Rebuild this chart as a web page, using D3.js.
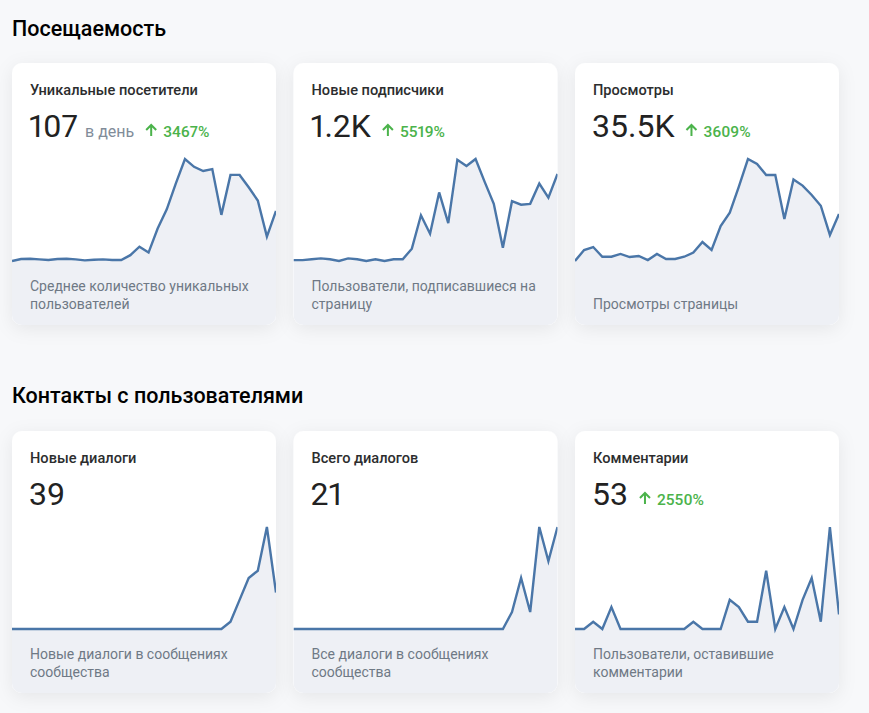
<!DOCTYPE html>
<html>
<head>
<meta charset="utf-8">
<script src="https://cdn.jsdelivr.net/npm/d3@7"></script>
<style>
  html, body { margin: 0; padding: 0; background: #f7f8fa; }
  svg { display: block; font-family: Roboto, "Noto Sans", sans-serif; }
  .num { font-variant-numeric: proportional-nums; font-feature-settings: "pnum" 1; }
</style>
</head>
<body>
<svg id="chart" width="869" height="713"></svg>
<script>
// ---- data ----
const sectionTitles = ["Посещаемость", "Контакты с пользователями"];
const days = [1,2,3,4,5,6,7,8,9,10,11,12,13,14,15,16,17,18,19,20,21,22,23,24,25,26,27,28,29,30];

const cardTitles = ["Уникальные посетители", "Новые подписчики", "Просмотры",
                    "Новые диалоги", "Всего диалогов", "Комментарии"];
const cardValues = ["107", "1.2K", "35.5K", "39", "21", "53"];
const cardUnits = ["в день", "", "", "", "", ""];
const cardChanges = ["3467%", "5519%", "3609%", "", "", "2550%"];
const cardNotes = [
  ["Среднее количество уникальных", "пользователей"],
  ["Пользователи, подписавшиеся на", "страницу"],
  ["Просмотры страницы"],
  ["Новые диалоги в сообщениях", "сообщества"],
  ["Все диалоги в сообщениях", "сообщества"],
  ["Пользователи, оставившие", "комментарии"]
];

const uniqueVisitors = [3,9,10,8,6,9,10,8,5,7,8,6,6,21,47,29,103,162,242,317,293,280,286,145,268,268,230,189,78,157];
const newSubscribers = [1,1,2,3,2,0,3,2,0,2,0,2,2,14,52,31,78,43,115,108,116,90,65,15,68,64,65,88,72,99];
const pageViews = [40,408,507,183,183,275,173,207,73,275,107,107,183,320,674,408,1210,1656,2526,3450,3283,2915,2915,1445,2768,2560,2246,1888,910,1612];
const newDialogs = [0,0,0,0,0,0,0,0,0,0,0,0,0,0,0,0,0,0,0,0,0,0,0,0,1,4,7,8,14,5];
const totalDialogs = [0,0,0,0,0,0,0,0,0,0,0,0,0,0,0,0,0,0,0,0,0,0,0,0,1,3,1,6,4,6];
const comments = [0,0,1,0,3,0,0,0,0,0,0,0,0,1,0,0,0,4,3,1,1,8,0,3,0,4,7,1,14,2];

const series = [uniqueVisitors, newSubscribers, pageViews, newDialogs, totalDialogs, comments];

// ---- layout ----
const svg = d3.select("#chart");
const cardW = 264, cardH = 262, cardR = 10;
const colX = [12, 293.5, 575];
const rowY = [63, 431];
const headY = [36, 403];
const lineColor = "#4a76a8";
const fillColor = "#eef0f5";
const green = "#4bb34b";

const defs = svg.append("defs");
const shadow = defs.append("filter").attr("id", "shadow")
  .attr("x", "-20%").attr("y", "-20%").attr("width", "140%").attr("height", "140%");
shadow.append("feDropShadow").attr("dx", 0).attr("dy", 4).attr("stdDeviation", 9)
  .attr("flood-color", "#000").attr("flood-opacity", 0.07);

svg.selectAll("text.section").data(sectionTitles).join("text")
  .attr("class", "section")
  .attr("x", 12).attr("y", (d, i) => headY[i])
  .attr("font-size", 21.5).attr("font-weight", 500).attr("fill", "#000")
  .text(d => d);

cardTitles.forEach((title, i) => {
  const cx = colX[i % 3], cy = rowY[Math.floor(i / 3)];
  const data = series[i];
  const clipId = "clip" + i;
  defs.append("clipPath").attr("id", clipId)
    .append("rect").attr("x", cx).attr("y", cy).attr("width", cardW).attr("height", cardH)
    .attr("rx", cardR);

  const g = svg.append("g");
  g.append("rect").attr("x", cx).attr("y", cy).attr("width", cardW).attr("height", cardH)
    .attr("rx", cardR).attr("fill", "#fff").attr("filter", "url(#shadow)");

  const x = d3.scaleLinear().domain(d3.extent(days)).range([cx, cx + cardW]);
  const y = d3.scaleLinear().domain(d3.extent(data)).range([cy + 198, cy + 96]);
  const pts = days.map((d, k) => [d, data[k]]);

  const cg = g.append("g").attr("clip-path", `url(#${clipId})`);
  cg.append("path")
    .attr("d", d3.area().x(p => x(p[0])).y0(cy + cardH + 5).y1(p => y(p[1]))(pts))
    .attr("fill", fillColor);
  cg.append("path")
    .attr("d", d3.line().x(p => x(p[0])).y(p => y(p[1]))(pts))
    .attr("fill", "none").attr("stroke", lineColor).attr("stroke-width", 2.4);

  g.append("text").attr("x", cx + 18).attr("y", cy + 32)
    .attr("font-size", 14.6).attr("font-weight", 500).attr("fill", "#2c2d2e")
    .text(title);

  const num = g.append("text").attr("class", "num").attr("x", cx + 17).attr("y", cy + 74)
    .attr("font-size", 32).attr("font-weight", 400).attr("fill", "#222")
    .text(cardValues[i]);
  let nx = cx + 17 + num.node().getComputedTextLength();

  if (cardUnits[i]) {
    const u = g.append("text").attr("x", nx + 7).attr("y", cy + 74)
      .attr("font-size", 16).attr("fill", "#818c99").text(cardUnits[i]);
    nx = nx + 7 + u.node().getComputedTextLength();
  }
  if (cardChanges[i]) {
    const ax = nx + 12, by = cy + 73;
    g.append("path")
      .attr("d", `M${ax + 5},${by} L${ax + 5},${by - 11} M${ax},${by - 6} L${ax + 5},${by - 11} L${ax + 10},${by - 6}`)
      .attr("fill", "none").attr("stroke", green).attr("stroke-width", 2);
    g.append("text").attr("class", "num").attr("x", ax + 17).attr("y", cy + 74)
      .attr("font-size", 15.5).attr("font-weight", 500).attr("fill", green)
      .text(cardChanges[i]);
  }

  const notes = cardNotes[i];
  g.selectAll("text.note").data(notes).join("text")
    .attr("class", "note")
    .attr("x", cx + 18)
    .attr("y", (d, k) => cy + 246 - (notes.length - 1 - k) * 18)
    .attr("font-size", 14).attr("fill", "#6f7985")
    .text(d => d);
});
</script>
</body>
</html>
